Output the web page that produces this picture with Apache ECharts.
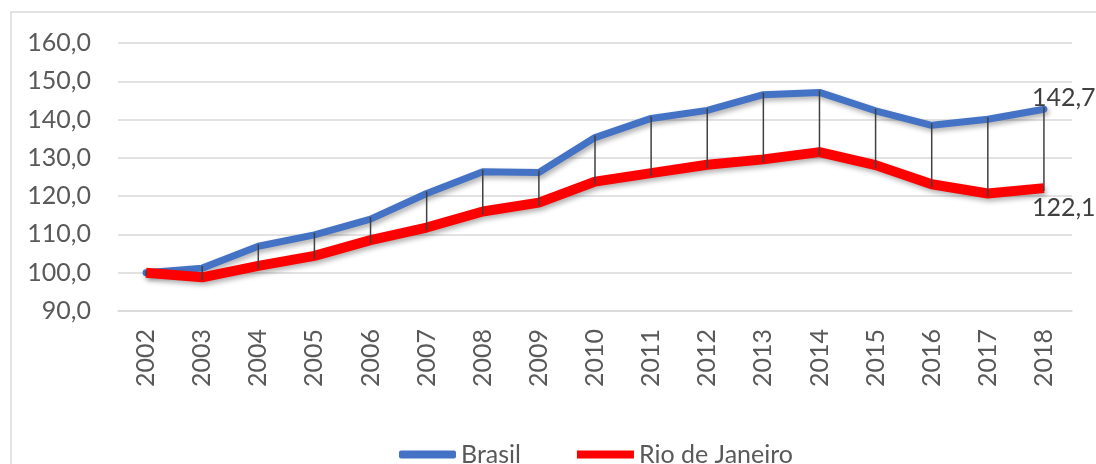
<!DOCTYPE html>
<html>
<head>
<meta charset="utf-8">
<script src="https://cdn.jsdelivr.net/npm/echarts@6/dist/echarts.min.js"></script>
<style>
  html, body { margin: 0; padding: 0; background: #fff; }
  #main { width: 1096px; height: 464px; }
</style>
</head>
<body>
<div id="main"></div>
<script>
var myChart = echarts.init(document.getElementById('main'));

const anos = ['2002', '2003', '2004', '2005', '2006', '2007', '2008', '2009', '2010',
    '2011', '2012', '2013', '2014', '2015', '2016', '2017', '2018']
const brasil = [100.0, 101.2, 106.9, 109.9, 114.0, 120.7, 126.4, 126.2, 135.3,
    140.3, 142.4, 146.5, 147.1, 142.3, 138.5, 140.1, 142.7]
const rio = [100.0, 98.8, 101.8, 104.4, 108.5, 111.8, 116.0, 118.3, 123.8,
    126.0, 128.2, 129.6, 131.5, 128.1, 123.1, 120.7, 122.1]

const fonte = 'Lato'
const cinza = '#595959'

// linhas verticais entre as duas series (high-low)
const pares = anos.map((a, i) => [i, brasil[i], rio[i]])

function rotulo(params) {
    return params.value.toFixed(1).replace('.', ',')
}

option = {
    animation: false,
    textStyle: { fontFamily: fonte },
    graphic: [{
        type: 'rect',
        shape: { x: 11, y: 12, width: 1100, height: 470 },
        style: { fill: 'none', stroke: '#d9d9d9', lineWidth: 1.5 },
        silent: true
    }],
    grid: { left: 118, right: 24, top: 43, bottom: 153 },
    legend: {
        left: 394,
        top: 437,
        itemWidth: 57,
        itemHeight: 8,
        itemGap: 56,
        textStyle: { fontFamily: fonte, fontSize: 25, color: cinza },
        data: [
            { name: 'Brasil', icon: 'roundRect' },
            { name: 'Rio de Janeiro', icon: 'rect' }
        ]
    },
    xAxis: {
        type: 'category',
        data: anos,
        axisLine: { lineStyle: { color: '#d9d9d9', width: 1.5 } },
        axisTick: { show: false },
        axisLabel: {
            rotate: 90,
            margin: 18,
            fontSize: 25,
            color: cinza,
            fontFamily: fonte
        }
    },
    yAxis: {
        type: 'value',
        min: 90,
        max: 160,
        interval: 10,
        axisLine: { show: false },
        axisTick: { show: false },
        splitLine: { lineStyle: { color: '#d9d9d9', width: 1.5 } },
        axisLabel: {
            margin: 27,
            fontSize: 25,
            color: cinza,
            fontFamily: fonte,
            formatter: (v) => v.toFixed(1).replace('.', ',')
        }
    },
    series: [
        {
            name: 'Brasil',
            type: 'line',
            data: brasil,
            showSymbol: false,
            symbol: 'none',
            z: 2,
            color: '#4472C4',
            lineStyle: {
                width: 7,
                color: '#4472C4',
                cap: 'round',
                shadowColor: 'rgba(0,0,0,0.3)',
                shadowBlur: 5,
                shadowOffsetX: 2,
                shadowOffsetY: 3
            },
            endLabel: {
                show: true,
                offset: [-20, -11],
                fontSize: 25,
                color: '#404040',
                fontFamily: fonte,
                formatter: rotulo
            }
        },
        {
            name: 'Rio de Janeiro',
            type: 'line',
            data: rio,
            showSymbol: false,
            symbol: 'none',
            z: 3,
            color: '#FF0000',
            lineStyle: {
                width: 10,
                color: '#FF0000',
                shadowColor: 'rgba(0,0,0,0.3)',
                shadowBlur: 5,
                shadowOffsetX: 2,
                shadowOffsetY: 3
            },
            endLabel: {
                show: true,
                offset: [-20, 20],
                fontSize: 25,
                color: '#404040',
                fontFamily: fonte,
                formatter: rotulo
            }
        },
        {
            type: 'custom',
            z: 4,
            silent: true,
            data: pares,
            renderItem: function (params, api) {
                const p1 = api.coord([api.value(0), api.value(1)])
                const p2 = api.coord([api.value(0), api.value(2)])
                return {
                    type: 'line',
                    shape: { x1: p1[0], y1: p1[1] - 2, x2: p2[0], y2: p2[1] + 3 },
                    style: { stroke: '#404040', lineWidth: 1.5 }
                }
            }
        }
    ]
};

myChart.setOption(option)
</script>
</body>
</html>
